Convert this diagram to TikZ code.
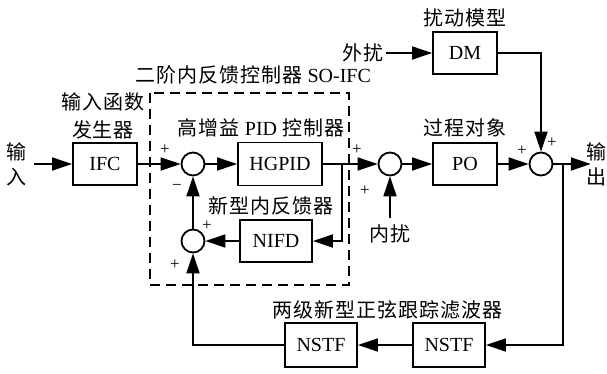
\documentclass[tikz,border=0pt]{standalone}
\usepackage{fontspec}
\setmainfont{Liberation Serif}
\newfontfamily\cjk[LetterSpace=5]{Noto Sans CJK SC}
\usetikzlibrary{arrows.meta, positioning}

\begin{document}
\begin{tikzpicture}[
        x=1pt, y=-1pt,
        font=\fontsize{20}{25}\selectfont,
        blk/.style={rectangle, draw, line width=1.8pt, minimum width=64pt, minimum height=42pt, align=center, inner sep=0pt},
        sumc/.style={circle, draw, line width=1.8pt, minimum size=23pt, inner sep=0pt},
        zh/.style={inner sep=0pt, align=center, font=\fontsize{20}{25}\selectfont\cjk},
        sgn/.style={inner sep=0pt, font=\fontsize{17}{17}\selectfont},
        frame/.style={line width=1.8pt, dash pattern=on 10pt off 6pt},
        arrow/.style={-{Triangle[length=20pt, width=13pt]}, line width=1.8pt}
    ]
    \useasboundingbox (0,0) rectangle (607,373);
    % Nodes
    \node (in) [zh] at (16,164) {输\\入};
    \node (ifc) [blk] at (105,164) {IFC};
    \node (ifclbl) [zh] at (103,116) {输入函数\\[3pt]发生器};
    \node (s1) [sumc] at (193,164) {};
    \node (hg) [blk, minimum width=84pt, minimum height=43pt] at (280,164) {HGPID};
    \node (hglbl) [zh, above=4pt of hg, xshift=-19pt] {高增益 {\rmfamily PID} 控制器};
    \node (s3) [sumc] at (390,164) {};
    \node (po) [blk] at (465,164) {PO};
    \node (polbl) [zh, above=5pt of po] {过程对象};
    \node (s4) [sumc] at (541,164) {};
    \node (out) [zh] at (596,164) {输\\出};
    \node (dm) [blk] at (465,53) {DM};
    \node (dmlbl) [zh, above=4pt of dm] {扰动模型};
    \node (ext) [zh] at (363,53) {外扰};
    \node (nifd) [blk, minimum width=72pt] at (276,241) {NIFD};
    \node (nifdlbl) [zh, above=4pt of nifd, xshift=-5pt] {新型内反馈器};
    \node (s2) [sumc] at (193,241) {};
    \node (inr) [zh] at (390,234) {内扰};
    \node (nstfb) [blk, minimum width=72pt, minimum height=44pt] at (449,345) {NSTF};
    \node (nstfa) [blk, minimum width=72pt, minimum height=44pt] at (321,345) {NSTF};
    \node (nstflbl) [zh] at (387,310) {两级新型正弦跟踪滤波器};
    \node (soifc) [zh] at (253,75) {二阶内反馈控制器 {\rmfamily SO-IFC}};
    \coordinate (t1) at (342,164);
    \coordinate (t2) at (563,164);

    % Signs
    \node (p1) [sgn] at (165,150) {+};
    \node (m1) [sgn] at (177,187) {−};
    \node (p2) [sgn] at (207,226) {+};
    \node (p3) [sgn] at (175,265) {+};
    \node (p4) [sgn] at (357,150) {+};
    \node (p5) [sgn] at (365,191) {+};
    \node (p6) [sgn] at (522,151) {+};
    \node (p7) [sgn] at (552,143) {+};

    % Controller frame
    \draw [frame] (150,93) rectangle (349,285);

    % Arrows
    \draw [arrow, shorten <=8pt] (in) -- (ifc);
    \draw [arrow] (ifc) -- (s1);
    \draw [arrow] (s1) -- (hg);
    \draw [arrow] (hg) -- (s3);
    \draw [arrow] (s3) -- (po);
    \draw [arrow] (po) -- (s4);
    \draw [arrow, shorten >=-5pt] (s4) -- (out);
    \draw [arrow, shorten <=2pt] (ext) -- (dm);
    \draw [arrow] (dm) -| (s4);
    \draw [arrow, shorten <=7pt] (inr) -- (s3);
    \draw [arrow] (t1) |- (nifd);
    \draw [arrow] (nifd) -- (s2);
    \draw [arrow] (s2) -- (s1);
    \draw [arrow] (t2) |- (nstfb);
    \draw [arrow] (nstfb) -- (nstfa);
    \draw [arrow] (nstfa) -| (s2);
\end{tikzpicture}
\end{document}
